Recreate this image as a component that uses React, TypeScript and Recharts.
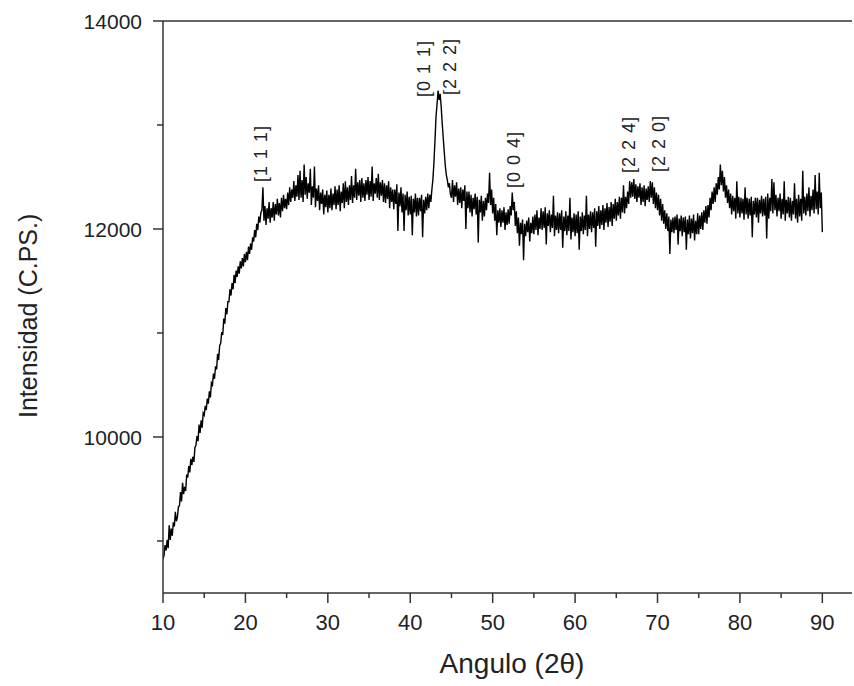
import React from 'react';
import { ComposedChart, Line, XAxis, YAxis, ReferenceLine, ReferenceDot } from 'recharts';

// diffractogram sampled every 0.125 deg starting at 10 deg (one row per degree)
const START_ANGLE = 10;
const ANGLE_STEP = 0.125;

const intensity: number[] = [
  8830, 8860, 8960, 8910, 9010, 8930, 9150, 9010,
  9120, 9050, 9180, 9140, 9280, 9190, 9230, 9330,
  9340, 9470, 9380, 9560, 9450, 9520, 9480, 9640,
  9610, 9720, 9660, 9790, 9730, 9810, 9760, 9900,
  9920, 10010, 9960, 10120, 10040, 10160, 10090, 10230,
  10210, 10300, 10260, 10370, 10320, 10440, 10380, 10520,
  10500, 10610, 10560, 10680, 10650, 10800, 10740, 10880,
  10900, 11010, 10980, 11140, 11090, 11240, 11180, 11300,
  11300, 11420, 11360, 11480, 11420, 11560, 11480, 11600,
  11540, 11640, 11570, 11690, 11620, 11720, 11640, 11760,
  // 20
  11680, 11780, 11700, 11830, 11760, 11860, 11800, 11920,
  11880, 11990, 11920, 12050, 11990, 12120, 12060, 12160,
  12180, 12400, 12080, 12220, 12040, 12200, 12100, 12260,
  12060, 12200, 12110, 12260, 12080, 12240, 12140, 12290,
  12130, 12250, 12110, 12300, 12170, 12330, 12200, 12290,
  12190, 12350, 12230, 12400, 12260, 12380, 12300, 12460,
  12270, 12420, 12310, 12520, 12280, 12560, 12300, 12470,
  12260, 12620, 12330, 12500, 12290, 12440, 12350, 12580,
  12230, 12410, 12300, 12600, 12210, 12390, 12270, 12420,
  12180, 12350, 12240, 12380, 12140, 12330, 12210, 12370,
  // 30
  12160, 12330, 12200, 12390, 12180, 12340, 12230, 12410,
  12190, 12380, 12230, 12420, 12170, 12360, 12250, 12440,
  12200, 12460, 12260, 12400, 12230, 12420, 12280, 12510,
  12250, 12420, 12300, 12580, 12280, 12450, 12320, 12470,
  12260, 12490, 12300, 12440, 12270, 12470, 12330, 12500,
  12280, 12460, 12310, 12600, 12270, 12440, 12340, 12490,
  12300, 12530, 12280, 12450, 12320, 12470, 12260, 12440,
  12250, 12420, 12290, 12460, 12200, 12400, 12260, 12380,
  12190, 12380, 12240, 12430, 11980, 12350, 12220, 12400,
  12160, 12340, 11980, 12330, 12180, 12360, 12130, 12310,
  // 40
  12140, 12320, 11940, 12290, 12160, 12340, 12120, 12300,
  12130, 12300, 12170, 12330, 11920, 12280, 12150, 12310,
  12180, 12340, 12200, 12330, 12260, 12380, 12480, 12640,
  12850, 13080, 13200, 13330, 13240, 13300, 13180, 13020,
  12880, 12740, 12610, 12520, 12470, 12400, 12440, 12330,
  12300, 12470, 12260, 12420, 12310, 12450, 12230, 12390,
  12250, 12400, 12200, 12380, 12270, 12420, 12000, 12360,
  12200, 12360, 12160, 12330, 12120, 12300, 12190, 12340,
  12140, 12310, 11870, 12280, 12160, 12320, 12080, 12270,
  12120, 12300, 12180, 12340, 12250, 12540, 12230, 12380,
  // 50
  12150, 12300, 12080, 12240, 11940, 12180, 12060, 12200,
  12020, 12180, 12060, 12210, 11990, 12160, 12040, 12190,
  12050, 12220, 12130, 12350, 12180, 12260, 12030, 12170,
  11960, 12110, 11840, 12060, 11950, 12090, 11700, 12050,
  11930, 12080, 11970, 12110, 11880, 12060, 11960, 12120,
  11950, 12140, 11990, 12180, 11940, 12110, 12000, 12200,
  11990, 12170, 12010, 12210, 11850, 12150, 12030, 12180,
  11970, 12140, 12010, 12320, 11930, 12130, 11990, 12160,
  11960, 12150, 11990, 12180, 11820, 12120, 11980, 12170,
  11940, 12130, 11980, 12300, 11900, 12110, 11970, 12150,
  // 60
  11930, 12140, 11960, 12170, 11800, 12120, 11980, 12160,
  11950, 12130, 11990, 12320, 11930, 12140, 12000, 12170,
  11970, 12160, 12010, 12200, 11830, 12170, 12030, 12220,
  12000, 12180, 12040, 12230, 11990, 12200, 12060, 12250,
  12020, 12210, 12070, 12260, 12030, 12240, 12100, 12290,
  12080, 12260, 12130, 12310, 12100, 12300, 12160, 12420,
  12150, 12310, 12200, 12360, 12240, 12460, 12300, 12450,
  12310, 12480, 12290, 12430, 12260, 12410, 12300, 12440,
  12230, 12400, 12260, 12420, 12220, 12390, 12280, 12410,
  12260, 12460, 12300, 12450, 12240, 12400, 12200, 12350,
  // 70
  12180, 12330, 12130, 12290, 12080, 12240, 12050, 12180,
  12000, 12150, 11980, 12120, 11760, 12090, 11970, 12110,
  11960, 12120, 11990, 12140, 11850, 12100, 11980, 12130,
  11930, 12110, 11970, 12120, 11800, 12090, 11950, 12130,
  11910, 12100, 11960, 12140, 11890, 12080, 11950, 12150,
  11950, 12130, 12000, 12160, 11990, 12180, 12060, 12220,
  12050, 12230, 12110, 12300, 12180, 12360, 12240, 12400,
  12260, 12440, 12330, 12500, 12380, 12620, 12420, 12560,
  12360, 12500, 12300, 12420, 12250, 12380, 12200, 12340,
  12140, 12320, 12170, 12300, 12100, 12460, 12150, 12310,
  // 80
  12110, 12300, 12150, 12290, 12090, 12400, 12140, 12300,
  12100, 12290, 12130, 12310, 11920, 12270, 12140, 12300,
  12110, 12300, 12060, 12280, 12150, 12320, 12120, 12290,
  12130, 12310, 11910, 12340, 12100, 12300, 12170, 12480,
  12150, 12450, 12180, 12330, 12120, 12300, 12170, 12340,
  12100, 12290, 12140, 12460, 12080, 12280, 12150, 12310,
  12110, 12300, 12080, 12270, 12140, 12440, 12100, 12290,
  12060, 12330, 12120, 12290, 12080, 12560, 12150, 12310,
  12130, 12340, 12170, 12400, 12120, 12320, 12180, 12380,
  12150, 12520, 12190, 12360, 12140, 12540, 12200, 12350,
  // 90
  11970,
];

const xTicks = [10, 15, 20, 25, 30, 35, 40, 45, 50, 55, 60, 65, 70, 75, 80, 85, 90];
const yTicks = [9000, 10000, 11000, 12000, 13000, 14000];

const peakLabels = ['[1 1 1]', '[0 1 1]', '[2 2 2]', '[0 0 4]', '[2 2 4]', '[2 2 0]'];
const peakAngles = [22.0, 41.8, 44.95, 52.7, 66.7, 70.3];
const peakLabelBase = [12452, 13269, 13288, 12394, 12538, 12548];

const data = intensity.map((v, i) => ({ angle: START_ANGLE + i * ANGLE_STEP, cps: v }));

const FONT = '"Liberation Sans", Arial, sans-serif';
const AXIS = '#333';
const TEXT = '#222';

const XTick = (props: any) => {
  const { x, y, payload } = props;
  const major = payload.value % 10 === 0;
  return (
    <g>
      <line x1={x} x2={x} y1={y} y2={y + (major ? 10 : 5)} stroke={AXIS} strokeWidth={1.5} />
      {major && (
        <text x={x} y={y + 37} textAnchor="middle" fontSize={22} fill={TEXT} fontFamily={FONT}>
          {payload.value}
        </text>
      )}
    </g>
  );
};

const YTick = (props: any) => {
  const { x, y, payload } = props;
  const major = payload.value % 2000 === 0;
  return (
    <g>
      <line x1={x - (major ? 10 : 6)} x2={x} y1={y} y2={y} stroke={AXIS} strokeWidth={1.5} />
      {major && (
        <text x={x - 21} y={y} dy="0.36em" textAnchor="end" fontSize={21} fill={TEXT} fontFamily={FONT}>
          {payload.value}
        </text>
      )}
    </g>
  );
};

const peakShape = (label: string) => (p: any) => (
  <text
    x={p.cx}
    y={p.cy}
    transform={`rotate(-90 ${p.cx} ${p.cy})`}
    textAnchor="start"
    dominantBaseline="middle"
    fontSize={18}
    letterSpacing={1}
    fill={TEXT}
    fontFamily={FONT}
  >
    {label}
  </text>
);

export default function App() {
  return (
    <div style={{ position: 'absolute', left: 0, top: 0, background: '#fff' }}>
      <ComposedChart width={854} height={686} data={data} margin={{ top: 21, right: 2, bottom: 0, left: 0 }}>
        <XAxis
          dataKey="angle"
          type="number"
          domain={[10, 93.6]}
          ticks={xTicks}
          interval={0}
          allowDataOverflow
          tickLine={false}
          tickSize={0}
          tickMargin={0}
          tick={<XTick />}
          axisLine={{ stroke: AXIS, strokeWidth: 1.5 }}
          height={93}
          label={{
            content: () => (
              <text x={512} y={673} textAnchor="middle" fontSize={28} fill={TEXT} fontFamily={FONT}>
                Angulo (2θ)
              </text>
            ),
          }}
        />
        <YAxis
          type="number"
          domain={[8500, 14000]}
          ticks={yTicks}
          interval={0}
          allowDataOverflow
          tickLine={false}
          tickSize={0}
          tickMargin={0}
          tick={<YTick />}
          axisLine={{ stroke: AXIS, strokeWidth: 1.5 }}
          width={163}
          label={{
            content: () => (
              <text
                x={37}
                y={418}
                transform="rotate(-90 37 418)"
                textAnchor="start"
                fontSize={25}
                fill={TEXT}
                fontFamily={FONT}
              >
                Intensidad (C.PS.)
              </text>
            ),
          }}
        />
        <ReferenceLine y={14000} stroke={AXIS} strokeWidth={1.5} />
        <Line
          type="linear"
          dataKey="cps"
          stroke="#000"
          strokeWidth={1.4}
          dot={false}
          isAnimationActive={false}
        />
        {peakLabels.map((label, i) => (
          <ReferenceDot
            key={label + i}
            x={peakAngles[i]}
            y={peakLabelBase[i]}
            r={0}
            ifOverflow="visible"
            shape={peakShape(label)}
          />
        ))}
      </ComposedChart>
    </div>
  );
}
